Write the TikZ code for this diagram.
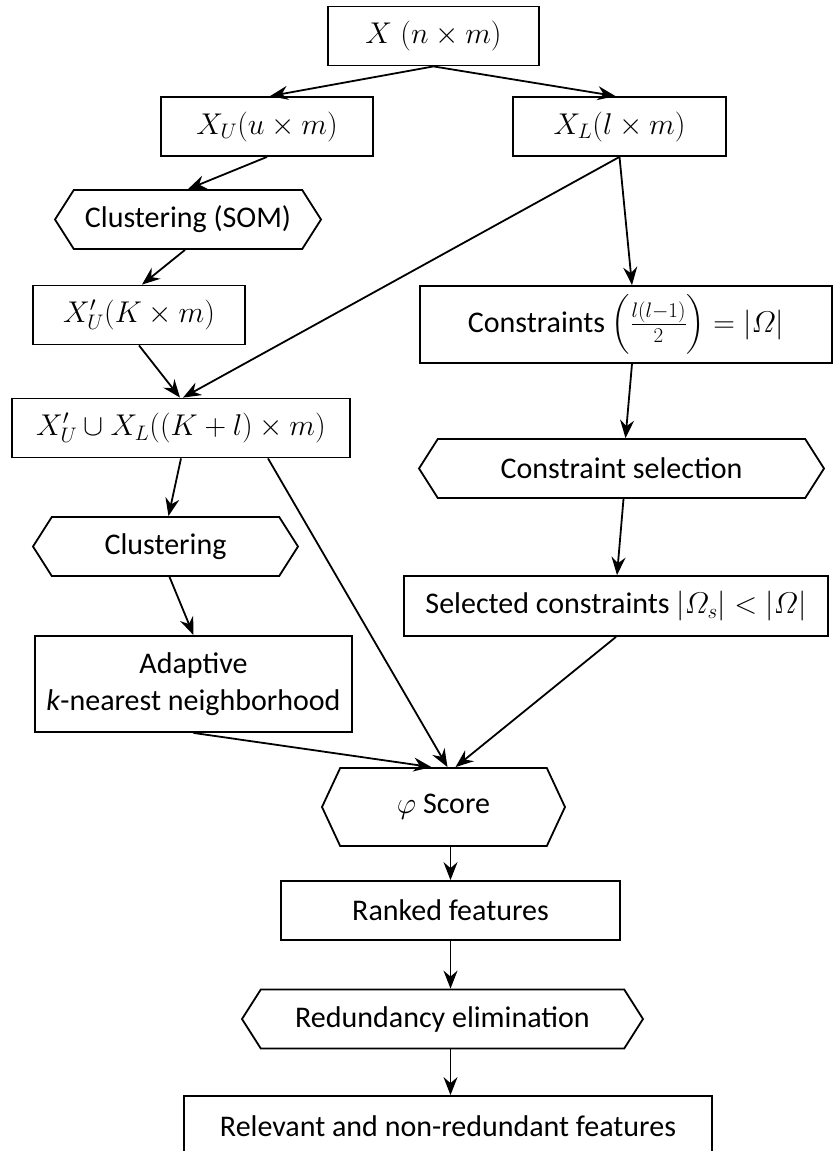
\RequirePackage{fix-cm}
\documentclass[tikz,border=0pt]{standalone}
\usepackage{amsmath}
\usepackage[no-math]{fontspec}
\setmainfont{Carlito}
\usetikzlibrary{shapes.symbols,arrows.meta}

\begin{document}
\begin{tikzpicture}[x=1pt,y=-1pt,line width=1.8pt,
    font=\fontsize{30}{37}\selectfont,
    >={Stealth[length=18pt,width=14pt,inset=6pt]}]

      \useasboundingbox (0,0) rectangle (834,1151);

      \begin{scope}[every node/.style={draw,rectangle,inner sep=2pt,minimum height=59pt}]
        \node[minimum width=211pt] (1)  at (433.5,36)   {$X\;(n\times m)$};
        \node[minimum width=212pt] (2)  at (267,126.5)  {$X_U(u\times m)$};
        \node[minimum width=213pt] (3)  at (619.5,126.5) {$X_L(l\times m)$};
        \node[minimum width=212pt] (5)  at (139,315)    {$X'_U(K\times m)$};
        \node[minimum width=412pt,minimum height=77pt] (6) at (626,324.5)
          {Constraints $\Bigl(\frac{l(l-1)}{2}\Bigr)=|\varOmega|$};
        \node[minimum width=338pt] (7)  at (181,428)    {$X'_U\cup X_L((K+l)\times m)$};
        \node[minimum width=317pt,minimum height=96pt,align=center] (9) at (193.5,684)
          {Adaptive\\\textit{k}-nearest neighborhood};
        \node[minimum width=424pt,minimum height=60pt] (11) at (616,606)
          {Selected constraints $|\varOmega_s|<|\varOmega|$};
        \node[minimum width=339pt] (13) at (450.5,910.5) {Ranked features};
        \node[minimum width=528pt,minimum height=60pt] (15) at (448,1126)
          {Relevant and non-redundant features};
      \end{scope}

      \begin{scope}[every node/.style={draw,signal,signal to=west and east,
          signal pointer angle=115,inner sep=2pt,minimum height=59pt}]
        \node[minimum width=266pt] (4)  at (188,219.5)   {Clustering (SOM)};
        \node[minimum width=265pt] (8)  at (165.5,546.5) {Clustering};
        \node[minimum width=405pt] (10) at (621.5,468.5) {Constraint selection};
        \node[minimum width=243pt,minimum height=78pt,signal pointer angle=130]
          (12) at (443.5,807) {$\varphi$ Score};
        \node[minimum width=401pt] (14) at (442.5,1019)  {Redundancy elimination};
      \end{scope}

      \begin{scope}[every edge/.style={draw,->}]
        \path (1.south)              edge ([xshift=3pt]2.north);
        \path (1.south)              edge ([xshift=-4pt]3.north);
        \path (2.south)              edge (4.north);
        \path ([xshift=-3pt]4.south) edge ([xshift=3pt]5.north);
        \path (5.south)              edge ([xshift=-1pt]7.north);
        \path (3.south)              edge ([xshift=2pt]7.north);
        \path (3.south)              edge ([xshift=6pt]6.north);
        \path ([xshift=6pt]6.south)  edge ([xshift=4pt]10.north);
        \path ([xshift=2pt]10.south) edge ([xshift=1pt]11.north);
        \path (7.south)              edge ([xshift=3pt]8.north);
        \path ([xshift=4pt]8.south)  edge (9.north);
        \path ([xshift=87pt]7.south) edge ([xshift=4pt]12.north);
        \path (11.south)             edge ([xshift=12pt]12.north);
        \path (9.south)              edge ([xshift=-12pt]12.north);
        \path ([xshift=7pt]12.south) edge (13.north);
        \path (13.south)             edge ([xshift=8pt]14.north);
        \path ([xshift=8pt]14.south) edge ([xshift=2.5pt]15.north);
      \end{scope}

    \end{tikzpicture}
\end{document}
